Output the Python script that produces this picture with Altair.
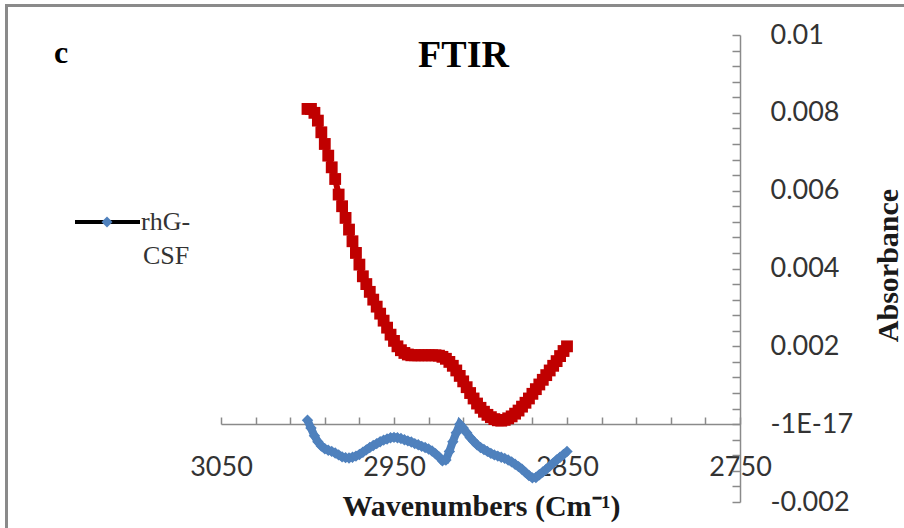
import altair as alt
import pandas as pd

# ---------------- data ----------------
wavenumbers = [3000, 2998, 2996, 2994, 2992, 2990, 2988, 2986, 2984, 2982,
               2980, 2978, 2976, 2974, 2972, 2970, 2968, 2966, 2964, 2962,
               2960, 2958, 2956, 2954, 2952, 2950, 2948, 2946, 2944, 2942,
               2940, 2938, 2936, 2934, 2932, 2930, 2928, 2926, 2924, 2922,
               2920, 2918, 2916, 2914, 2912, 2910, 2908, 2906, 2904, 2902,
               2900, 2898, 2896, 2894, 2892, 2890, 2888, 2886, 2884, 2882,
               2880, 2878, 2876, 2874, 2872, 2870, 2868, 2866, 2864, 2862,
               2860, 2858, 2856, 2854, 2852, 2850]

red_absorbance = [0.0081, 0.0081, 0.0080, 0.0078, 0.0075, 0.0072, 0.0069, 0.0066, 0.0063, 0.0059,
                  0.0056, 0.0053, 0.0050, 0.0047, 0.0044, 0.0041, 0.0038, 0.0036, 0.0034, 0.0032,
                  0.00302, 0.00284, 0.00266, 0.00248, 0.0023, 0.00214, 0.0020, 0.0019, 0.00183, 0.00179,
                  0.00177, 0.00177, 0.00177, 0.00177, 0.00177, 0.00177, 0.00177, 0.00177, 0.00176, 0.00173,
                  0.00168, 0.0016, 0.0015, 0.00138, 0.00124, 0.0011, 0.00095, 0.0008, 0.00066, 0.00053,
                  0.00042, 0.00032, 0.00024, 0.00018, 0.00013, 0.0001, 0.00009, 0.00011, 0.00015, 0.0002,
                  0.00027, 0.00035, 0.00045, 0.00055, 0.00066, 0.00078, 0.0009, 0.00102, 0.00114, 0.00126,
                  0.00138, 0.0015, 0.00162, 0.00175, 0.00188, 0.0020]

blue_absorbance = [0.0001, -0.0001, -0.0003, -0.00045, -0.00056, -0.00063, -0.00067, -0.0007, -0.00074, -0.00079,
                   -0.00084, -0.00086, -0.00087, -0.00085, -0.00082, -0.00078, -0.00072, -0.00066, -0.0006, -0.00055,
                   -0.0005, -0.00045, -0.00041, -0.00038, -0.00035, -0.00034, -0.00035, -0.00037, -0.0004, -0.00043,
                   -0.00046, -0.0005, -0.00053, -0.00057, -0.0006, -0.00064, -0.00069, -0.00076, -0.00084, -0.00094,
                   -0.00092, -0.0007, -0.00045, -0.00022, 0.0, -0.0001, -0.00022, -0.00034, -0.00044, -0.00053,
                   -0.0006, -0.00065, -0.0007, -0.00075, -0.00079, -0.00082, -0.00085, -0.00088, -0.00092, -0.00097,
                   -0.00103, -0.00109, -0.00116, -0.00124, -0.00132, -0.00138, -0.00137, -0.0013, -0.00123, -0.00116,
                   -0.00108, -0.001, -0.00092, -0.00085, -0.00078, -0.0007]

x_tick_values = [3050, 3030, 3010, 2990, 2970, 2950, 2930, 2910, 2890, 2870,
                 2850, 2830, 2810, 2790, 2770, 2750]
x_label_values = [3050, 2950, 2850, 2750]
y_label_values = [-0.002, 0.0, 0.002, 0.004, 0.006, 0.008, 0.01]
y_label_texts = ["-0.002", "-1E-17", "0.002", "0.004", "0.006", "0.008", "0.01"]
y_minor_values = [-0.002, -0.0016, -0.0012, -0.0008, -0.0004, 0.0, 0.0004, 0.0008, 0.0012, 0.0016,
                  0.002, 0.0024, 0.0028, 0.0032, 0.0036, 0.004, 0.0044, 0.0048, 0.0052, 0.0056,
                  0.006, 0.0064, 0.0068, 0.0072, 0.0076, 0.008, 0.0084, 0.0088, 0.0092, 0.0096, 0.01]

legend_lines = ["rhG-", "CSF"]
panel_letter = "c"
chart_title = "FTIR"
x_title = "Wavenumbers (Cm\u207b\u00b9)"
y_title = "Absorbance"

# ---------------- styling ----------------
W, H = 519, 467
GRAY = "#8a8a8a"
RED = "#C00000"
BLUE = "#4F81BD"
SERIF = "Liberation Serif"
SANS = "Lato"

df_red = pd.DataFrame({"wavenumber": wavenumbers, "absorbance": red_absorbance})
df_blue = pd.DataFrame({"wavenumber": wavenumbers, "absorbance": blue_absorbance})

xscale = alt.Scale(domain=[2750, 3050], reverse=True, nice=False, zero=False)
yscale = alt.Scale(domain=[-0.002, 0.01], nice=False, zero=False)

label_expr = ""
for v, t in zip(y_label_values, y_label_texts):
    label_expr += f"abs(datum.value - ({v})) < 1e-7 ? '{t}' : "
label_expr += "''"

red = alt.Chart(df_red).mark_line(
    color=RED, strokeWidth=6,
    point=alt.OverlayMarkDef(shape="square", filled=True, size=140, color=RED, opacity=1),
).encode(
    x=alt.X("wavenumber:Q", scale=xscale,
            axis=alt.Axis(orient="top", offset=-389, values=x_tick_values, labels=False,
                          tickSize=7, tickColor=GRAY, tickWidth=1.5, domainColor=GRAY,
                          domainWidth=1.5, grid=False, title=None)),
    y=alt.Y("absorbance:Q", scale=yscale,
            axis=alt.Axis(orient="left", offset=-W, values=y_minor_values, labels=False,
                          tickSize=8, tickColor=GRAY, tickWidth=1.5, domainColor=GRAY,
                          domainWidth=1.5, grid=False, title=None)),
)

blue = alt.Chart(df_blue).mark_line(
    color=BLUE, strokeWidth=8,
    point=alt.OverlayMarkDef(shape="diamond", filled=True, size=130, color=BLUE, opacity=1),
).encode(
    x=alt.X("wavenumber:Q", scale=xscale,
            axis=alt.Axis(orient="bottom", offset=-78, values=x_label_values, format="d",
                          domain=False, ticks=False, tickSize=0, labelPadding=51,
                          labelBaseline="alphabetic", labelFont=SANS, labelFontSize=27,
                          labelColor="#333333", labelFlush=False, labelOverlap=False, grid=False,
                          title=x_title, titleFont=SERIF, titleFontSize=30,
                          titleFontWeight="bold", titleColor="#1a1a1a", titleX=260, titleY=91,
                          titleBaseline="alphabetic", titleAlign="center")),
    y=alt.Y("absorbance:Q", scale=yscale,
            axis=alt.Axis(orient="right", values=y_label_values, domain=False, ticks=False,
                          tickSize=0, labelPadding=30, labelExpr=label_expr, labelFont=SANS,
                          labelFontSize=27, labelColor="#333333", labelBaseline="middle",
                          labelAlign="left", labelOverlap=False, labelFlush=False, grid=False,
                          title=y_title, titleFont=SERIF, titleFontSize=30,
                          titleFontWeight="bold", titleColor="#1a1a1a", titleX=157, titleY=230,
                          titleAngle=270, titleBaseline="alphabetic", titleAlign="center")),
)

one = alt.Data(values=[{}])

border = alt.Chart(one).mark_rect(fillOpacity=0, stroke=GRAY, strokeWidth=3).encode(
    x=alt.value(-214.5), y=alt.value(-29.5), x2=alt.value(720), y2=alt.value(520)
)

legend_line = alt.Chart(one).mark_rule(color="black", strokeWidth=4).encode(
    x=alt.value(-146), x2=alt.value(-81), y=alt.value(187)
)
legend_marker = alt.Chart(one).mark_point(shape="diamond", filled=True, size=120,
                                           color=BLUE, opacity=1).encode(
    x=alt.value(-114), y=alt.value(187)
)
legend_text1 = alt.Chart(one).mark_text(text=legend_lines[0], font=SERIF, fontSize=26,
                                         color="#333333", align="left",
                                         baseline="alphabetic").encode(
    x=alt.value(-80), y=alt.value(195)
)
legend_text2 = alt.Chart(one).mark_text(text=legend_lines[1], font=SERIF, fontSize=26,
                                         color="#333333", align="left",
                                         baseline="alphabetic").encode(
    x=alt.value(-78), y=alt.value(229)
)
letter = alt.Chart(one).mark_text(text=panel_letter, font=SERIF, fontSize=32, fontWeight="bold",
                                   color="black", align="left", baseline="alphabetic").encode(
    x=alt.value(-167), y=alt.value(28)
)

chart = alt.layer(
    border, blue, red, legend_line, legend_marker, legend_text1, legend_text2, letter
).resolve_axis(x="independent", y="independent").properties(
    width=W, height=H,
    padding={"left": 221, "top": 35, "right": 164, "bottom": 26},
    autosize=alt.AutoSizeParams(type="none"),
    background="white",
    title=alt.Title(chart_title, font=SERIF, fontSize=38, fontWeight="bold", color="black",
                    anchor="middle", frame="group", baseline="alphabetic", offset=-101, dx=-17),
).configure_view(stroke=None)

chart.save("out.html", embed_options={"renderer": "svg", "actions": False})
